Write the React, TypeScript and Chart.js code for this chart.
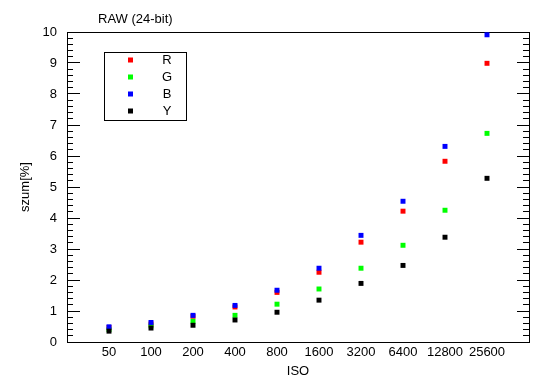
import React, { useEffect, useRef } from "react";
import { Chart, registerables } from "chart.js";

Chart.register(...registerables);

const isoLabels = ["50", "100", "200", "400", "800", "1600", "3200", "6400", "12800", "25600"];
const seriesNames = ["R", "G", "B", "Y"];
const seriesColors = ["#ff0000", "#00ff00", "#0000ff", "#000000"];
const rValues = [0.47, 0.58, 0.83, 1.13, 1.6, 2.25, 3.22, 4.22, 5.83, 8.99];
const gValues = [0.4, 0.52, 0.67, 0.86, 1.22, 1.71, 2.38, 3.12, 4.25, 6.73];
const bValues = [0.49, 0.63, 0.86, 1.18, 1.67, 2.38, 3.44, 4.54, 6.31, 9.91];
const yValues = [0.35, 0.45, 0.54, 0.71, 0.96, 1.35, 1.89, 2.47, 3.38, 5.28];
const chartTitle = "RAW (24-bit)";
const xTitle = "ISO";
const yTitle = "szum[%]";

const FONT = "'Liberation Sans', Arial, sans-serif";

const overlayPlugin = {
  id: "overlay",
  afterDraw(chart: any) {
    const ctx = chart.ctx as CanvasRenderingContext2D;
    ctx.save();
    ctx.font = `13px ${FONT}`;
    ctx.fillStyle = "#000";
    ctx.textBaseline = "middle";
    ctx.textAlign = "left";
    ctx.fillText(chartTitle, 98, 19);
    // legend box
    ctx.strokeStyle = "#000";
    ctx.lineWidth = 1;
    ctx.strokeRect(104.5, 52.5, 82, 68);
    const rowY = [60, 77, 94, 111];
    chart.data.datasets.forEach((ds: any, i: number) => {
      ctx.fillStyle = ds.backgroundColor;
      ctx.fillRect(128, rowY[i] - 2.5, 5, 5);
      ctx.fillStyle = "#000";
      ctx.textAlign = "center";
      ctx.fillText(ds.label, 167, rowY[i] + 0.5);
    });
    ctx.restore();
  },
};

export default function App() {
  const ref = useRef<HTMLCanvasElement>(null);

  useEffect(() => {
    if (!ref.current) return;
    const all = [rValues, gValues, bValues, yValues];
    const datasets = all.map((vals, i) => ({
      label: seriesNames[i],
      data: vals.map((v, j) => ({ x: j + 1, y: v })),
      backgroundColor: seriesColors[i],
      borderColor: seriesColors[i],
      borderWidth: 0,
      pointStyle: "rect",
      pointRadius: 3.5,
      pointHoverRadius: 3.5,
      order: 4 - i,
    }));
    const black = "#000";
    const yBase = { min: 0, max: 10 };
    const chart = new Chart(ref.current, {
      type: "scatter",
      data: { datasets } as any,
      options: {
        animation: false,
        responsive: false,
        maintainAspectRatio: false,
        layout: { padding: { left: 0, top: 32, right: 21, bottom: 0 } },
        plugins: { legend: { display: false }, tooltip: { enabled: false }, title: { display: false } },
        scales: {
          x: {
            type: "linear",
            position: "bottom",
            min: 0,
            max: 11,
            grid: { display: false, drawTicks: false },
            border: { display: true, color: black, width: 1 },
            ticks: {
              stepSize: 1,
              color: black,
              font: { family: FONT, size: 13 },
              padding: 3,
              autoSkip: false,
              maxRotation: 0,
              callback: (v: any) => isoLabels[Number(v) - 1] ?? "",
            },
            title: { display: true, text: xTitle, color: black, font: { family: FONT, size: 13 }, padding: { top: 0, bottom: 10 } },
            afterFit: (s: any) => { s.height = 47; },
          },
          x2: {
            type: "linear",
            position: "top",
            min: 0,
            max: 11,
            grid: { display: false, drawTicks: false },
            border: { display: true, color: black, width: 1 },
            ticks: { display: false },
            afterFit: (s: any) => { s.height = 0; },
          },
          y: {
            ...yBase,
            type: "linear",
            position: "left",
            weight: 1,
            grid: { drawOnChartArea: false, drawTicks: true, tickLength: -13, color: black, tickColor: black, lineWidth: 1 },
            border: { display: true, color: black, width: 1 },
            ticks: { stepSize: 1, color: black, font: { family: FONT, size: 13 }, padding: 23, autoSkip: false },
            title: { display: true, text: yTitle, color: black, font: { family: FONT, size: 13 }, padding: { top: 18, bottom: 0 } },
            afterFit: (s: any) => { s.width = 67; },
          },
          yMinor: {
            ...yBase,
            type: "linear",
            position: "left",
            weight: 0,
            grid: { drawOnChartArea: false, drawTicks: true, tickLength: -6, color: black, tickColor: black, lineWidth: 1 },
            border: { display: false },
            ticks: { display: false, stepSize: 0.2, maxTicksLimit: 100, autoSkip: false },
            afterFit: (s: any) => { s.width = 0; },
          },
          yR: {
            ...yBase,
            type: "linear",
            position: "right",
            weight: 1,
            grid: { drawOnChartArea: false, drawTicks: true, tickLength: -12, color: black, tickColor: black, lineWidth: 1 },
            border: { display: true, color: black, width: 1 },
            ticks: { display: false, stepSize: 1, autoSkip: false },
            afterFit: (s: any) => { s.width = 0; },
          },
          yRMinor: {
            ...yBase,
            type: "linear",
            position: "right",
            weight: 0,
            grid: { drawOnChartArea: false, drawTicks: true, tickLength: -6, color: black, tickColor: black, lineWidth: 1 },
            border: { display: false },
            ticks: { display: false, stepSize: 0.2, maxTicksLimit: 100, autoSkip: false },
            afterFit: (s: any) => { s.width = 0; },
          },
        },
      } as any,
      plugins: [overlayPlugin],
    });
    return () => chart.destroy();
  }, []);

  return (
    <div style={{ position: "absolute", left: 0, top: 0, width: 550, height: 389, background: "#fff" }}>
      <canvas ref={ref} width={550} height={389} style={{ display: "block" }} />
    </div>
  );
}
